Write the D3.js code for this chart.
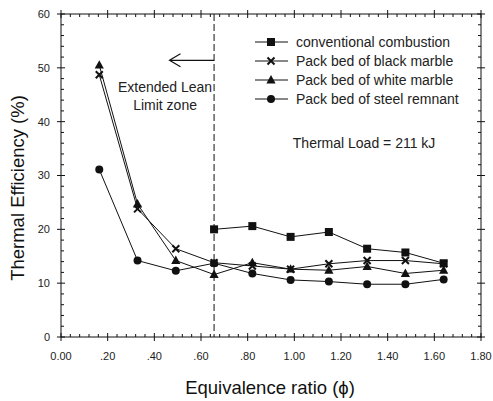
<!DOCTYPE html>
<html>
<head>
<meta charset="utf-8">
<script src="https://cdn.jsdelivr.net/npm/d3@7"></script>
<style>
  body { margin: 0; background: #fff; }
  svg { font-family: "Liberation Sans", Arial, sans-serif; }
</style>
</head>
<body>
<svg id="chart" width="493" height="401"></svg>
<script>
// data
const phi = [0.164, 0.328, 0.492, 0.656, 0.82, 0.984, 1.148, 1.312, 1.476, 1.64];
const conventional = [null, null, null, 20.0, 20.6, 18.6, 19.5, 16.4, 15.7, 13.7];
const blackMarble = [48.7, 23.8, 16.4, 13.8, 13.2, 12.6, 13.6, 14.2, 14.2, 13.6];
const whiteMarble = [50.5, 24.7, 14.2, 11.6, 13.8, 12.6, 12.4, 13.1, 11.8, 12.4];
const steelRemnant = [31.1, 14.2, 12.3, 13.7, 11.8, 10.6, 10.3, 9.8, 9.8, 10.7];
const seriesNames = ["conventional combustion", "Pack bed of black marble",
                     "Pack bed of white marble", "Pack bed of steel remnant"];
const xTicks = [0, 0.2, 0.4, 0.6, 0.8, 1.0, 1.2, 1.4, 1.6, 1.8];
const xTickLabels = ["0.00", ".20", ".40", ".60", ".80", "1.00", "1.20", "1.40", "1.60", "1.80"];
const yTicks = [0, 10, 20, 30, 40, 50, 60];
const leanLimit = 0.656;

const W = 493, H = 401;
const margin = { top: 14, right: 12, bottom: 64, left: 61 };
const svg = d3.select("#chart");
const g = svg.append("g").attr("transform", `translate(${margin.left},${margin.top})`);
const pw = W - margin.left - margin.right;
const ph = H - margin.top - margin.bottom;

const x = d3.scaleLinear().domain([0, 1.8]).range([0, pw]);
const y = d3.scaleLinear().domain([0, 60]).range([ph, 0]);

const ink = "#111";

// frame
g.append("rect").attr("width", pw).attr("height", ph)
    .attr("fill", "none").attr("stroke", ink).attr("stroke-width", 1);

const xMinor = d3.range(0, 1.8001, 0.04).filter(v => Math.abs(v / 0.2 - Math.round(v / 0.2)) > 1e-6);
const yMinor = d3.range(0, 60.001, 2).filter(v => v % 10 !== 0);

function tickMarks(sel, vals, horiz, pos, len, cls) {
    sel.selectAll("line." + cls).data(vals).join("line")
        .attr("class", cls)
        .attr("x1", d => horiz ? x(d) : pos + len[0])
        .attr("x2", d => horiz ? x(d) : pos + len[1])
        .attr("y1", d => horiz ? pos + len[0] : y(d))
        .attr("y2", d => horiz ? pos + len[1] : y(d))
        .attr("stroke", ink).attr("stroke-width", 1);
}
// bottom / top
tickMarks(g, xTicks, true, ph, [-4, 4], "xb");
tickMarks(g, xMinor, true, ph, [-3, 0], "xbm");
tickMarks(g, xTicks, true, 0, [-4, 4], "xt");
tickMarks(g, xMinor, true, 0, [0, 3], "xtm");
// left / right
tickMarks(g, yTicks, false, 0, [-4, 4], "yl");
tickMarks(g, yMinor, false, 0, [0, 3], "ylm");
tickMarks(g, yTicks, false, pw, [-4, 4], "yr");
tickMarks(g, yMinor, false, pw, [-3, 0], "yrm");

// tick labels
g.selectAll("text.xl").data(xTicks).join("text")
    .attr("class", "xl")
    .attr("x", d => x(d)).attr("y", ph + 23)
    .attr("text-anchor", "middle").attr("font-size", 11).attr("fill", "#222")
    .text((d, i) => xTickLabels[i]);
g.selectAll("text.yl").data(yTicks).join("text")
    .attr("class", "yl")
    .attr("x", -11).attr("y", d => y(d)).attr("dy", "0.36em")
    .attr("text-anchor", "end").attr("font-size", 11).attr("fill", "#222")
    .text(d => d);

// axis titles
svg.append("text")
    .attr("x", 270).attr("y", 394)
    .attr("text-anchor", "middle").attr("font-size", 18.5).attr("fill", "#111")
    .text("Equivalence ratio (\u03D5)");
svg.append("text")
    .attr("transform", "translate(24,188) rotate(-90)")
    .attr("text-anchor", "middle").attr("font-size", 18.5).attr("fill", "#111")
    .text("Thermal Efficiency (%)");

// lean limit line and arrow
g.append("line")
    .attr("x1", x(leanLimit)).attr("x2", x(leanLimit))
    .attr("y1", 0).attr("y2", ph)
    .attr("stroke", ink).attr("stroke-dasharray", "7,3");
const arrowY = y(51.4);
g.append("path")
    .attr("d", `M${x(leanLimit)},${arrowY}H${x(0.465)}M${x(0.512)},${arrowY - 6.5}L${x(0.465)},${arrowY}L${x(0.512)},${arrowY + 6.5}`)
    .attr("fill", "none").attr("stroke", ink).attr("stroke-width", 1.2);
g.append("text").attr("x", x(0.446)).attr("y", y(45.5))
    .attr("text-anchor", "middle").attr("font-size", 14).attr("fill", "#222")
    .text("Extended Lean");
g.append("text").attr("x", x(0.446)).attr("y", y(42.2))
    .attr("text-anchor", "middle").attr("font-size", 14).attr("fill", "#222")
    .text("Limit zone");

g.append("text").attr("x", x(1.299)).attr("y", y(35.05))
    .attr("text-anchor", "middle").attr("font-size", 14).attr("fill", "#222")
    .text("Thermal Load = 211 kJ");

// series
const allSeries = [conventional, blackMarble, whiteMarble, steelRemnant];
const shapes = ["square", "cross", "triangle", "circle"];

function drawMarker(sel, shape) {
    if (shape === "square") {
        sel.append("rect").attr("x", -4).attr("y", -4).attr("width", 8).attr("height", 8).attr("fill", ink);
    } else if (shape === "circle") {
        sel.append("circle").attr("r", 4).attr("fill", ink);
    } else if (shape === "triangle") {
        sel.append("path").attr("d", "M0,-5L4.6,3.4L-4.6,3.4Z").attr("fill", ink);
    } else {
        sel.append("path").attr("d", "M-3.5,-3.5L3.5,3.5M-3.5,3.5L3.5,-3.5")
            .attr("stroke", ink).attr("stroke-width", 2);
    }
}

const line = d3.line()
    .defined(d => d.v !== null)
    .x(d => x(d.x)).y(d => y(d.v));

allSeries.forEach((vals, i) => {
    const pts = phi.map((p, j) => ({ x: p, v: vals[j] }));
    g.append("path").datum(pts).attr("d", line)
        .attr("fill", "none").attr("stroke", ink).attr("stroke-width", 1);
    pts.filter(d => d.v !== null).forEach(d => {
        const m = g.append("g").attr("transform", `translate(${x(d.x)},${y(d.v)})`);
        drawMarker(m, shapes[i]);
    });
});

// legend
const legend = svg.append("g").attr("transform", "translate(255,42)");
seriesNames.forEach((name, i) => {
    const row = legend.append("g").attr("transform", `translate(0,${i * 19})`);
    row.append("line").attr("x1", 0).attr("x2", 33).attr("stroke", ink);
    const m = row.append("g").attr("transform", "translate(16,0)");
    drawMarker(m, shapes[i]);
    row.append("text").attr("x", 41).attr("dy", "0.36em")
        .attr("font-size", 14).attr("fill", "#222").text(name);
});
</script>
</body>
</html>
